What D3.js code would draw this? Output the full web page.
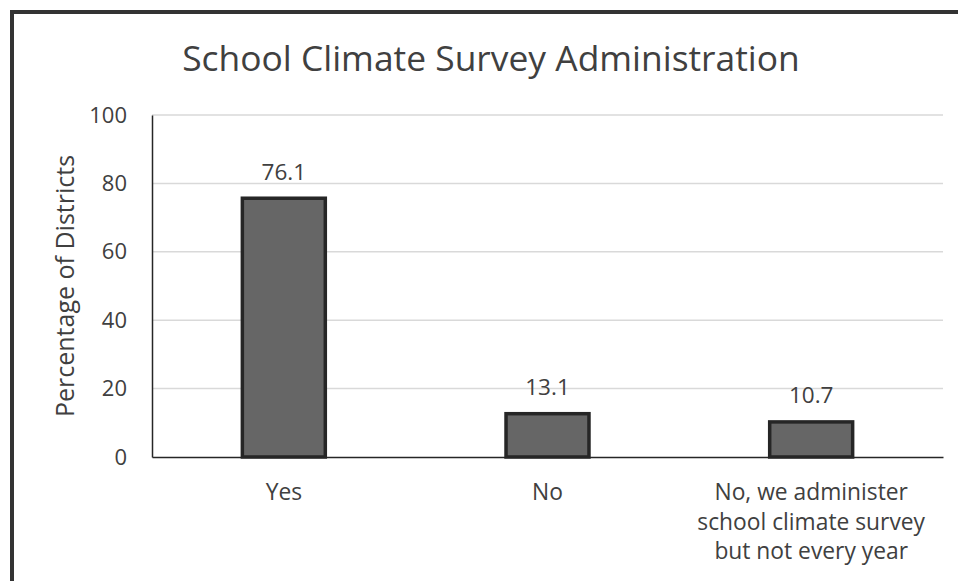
<!DOCTYPE html>
<html><head><meta charset="utf-8">
<script src="https://cdn.jsdelivr.net/npm/d3@7"></script>
<style>
html,body{margin:0;padding:0;background:#fff;}
text{font-family:"Open Sans","Noto Sans",sans-serif;fill:#404040;}
</style></head>
<body><svg id="c" width="958" height="581"></svg>
<script>
const categories = [["Yes"], ["No"], ["No, we administer", "school climate survey", "but not every year"]];
const values = [76.1, 13.1, 10.7];
const yTicks = [0, 20, 40, 60, 80, 100];
const title = "School Climate Survey Administration";
const yTitle = "Percentage of Districts";

const svg = d3.select("#c");
const m = {left:152, right:943, top:115, bottom:457};

svg.append("rect").attr("x",0).attr("y",0).attr("width",958).attr("height",581).attr("fill","#fff");
svg.append("rect").attr("x",12).attr("y",12).attr("width",980).attr("height",620)
  .attr("fill","none").attr("stroke","#333").attr("stroke-width",4);

const x = d3.scaleBand().domain(d3.range(values.length)).range([m.left, m.right])
  .paddingInner(0.674).paddingOuter(0.337);
const y = d3.scaleLinear().domain([0,100]).range([m.bottom, m.top]);

// gridlines
svg.append("g").selectAll("line").data(yTicks.filter(d=>d>0)).join("line")
  .attr("x1",m.left).attr("x2",m.right).attr("y1",d=>y(d)).attr("y2",d=>y(d))
  .attr("stroke","#d9d9d9").attr("stroke-width",1.5);

// y axis
const ya = svg.append("g").attr("transform",`translate(${m.left},0)`)
  .call(d3.axisLeft(y).tickValues(yTicks).tickSize(0).tickPadding(25));
ya.select(".domain").attr("stroke","#262626").attr("stroke-width",1.5);
ya.selectAll("text").style("font-size","22px").attr("fill","#404040")
  .style("font-family","'Open Sans'");

// x axis
const xa = svg.append("g").attr("transform",`translate(0,${m.bottom})`)
  .call(d3.axisBottom(x).tickSize(0).tickFormat(""));
xa.select(".domain").attr("stroke","#262626").attr("stroke-width",1.5);
xa.selectAll(".tick").each(function(d){
  const t = d3.select(this).append("text").attr("text-anchor","middle")
    .style("font-size","22.8px").attr("fill","#404040").attr("y",43);
  categories[d].forEach((s,i)=>t.append("tspan").attr("x",0).attr("dy",i===0?0:29.5).text(s));
});

// bars
svg.append("g").selectAll("rect").data(values).join("rect")
  .attr("x",(d,i)=>x(i)+1.5).attr("width",x.bandwidth()-3)
  .attr("y",d=>y(d)+1.5).attr("height",d=>y(0)-y(d)-1.5)
  .attr("fill","#666666").attr("stroke","#262626").attr("stroke-width",3.5);

// labels
svg.append("g").selectAll("text").data(values).join("text")
  .attr("x",(d,i)=>x(i)+x.bandwidth()/2).attr("y",d=>y(d)-17)
  .attr("text-anchor","middle").style("font-size","22.5px").text(d=>d.toFixed(1));

// title
svg.append("text").attr("x",491).attr("y",71).attr("text-anchor","middle")
  .style("font-size","35.4px").text(title);

// y title
svg.append("text").attr("transform",`translate(74,${(m.top+m.bottom)/2}) rotate(-90)`)
  .attr("text-anchor","middle").style("font-size","25px").text(yTitle);
</script></body></html>
